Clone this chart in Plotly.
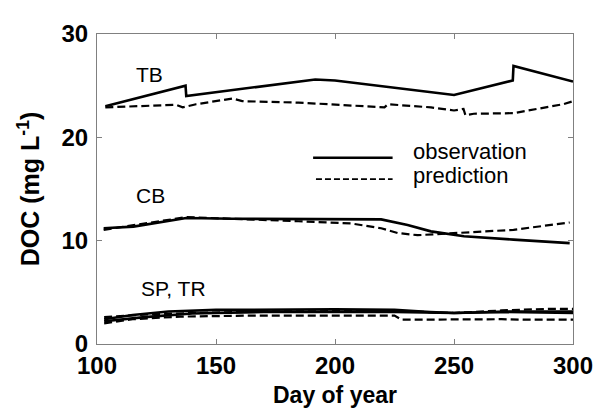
import plotly.graph_objects as go

# ---- data ----
tb_obs_day = [103.5, 137.2, 137.5, 191.7, 200, 250, 274.7, 275, 300]
tb_obs_val = [23.0, 25.0, 24.0, 25.6, 25.5, 24.1, 25.5, 26.9, 25.4]

tb_pred_day = [103.5, 133.3, 136, 141.6, 157, 161, 184.7, 212.5, 220.8, 222.2, 240.3, 250, 254, 254.8, 258.3, 275, 295.8, 300]
tb_pred_val = [22.9, 23.15, 22.9, 23.2, 23.76, 23.5, 23.36, 23.05, 22.9, 23.2, 22.9, 22.6, 22.75, 22.13, 22.28, 22.34, 23.2, 23.5]

cb_obs_day = [102.8, 115.3, 137.5, 157, 219.4, 230.5, 240.3, 254.2, 275, 298.6]
cb_obs_val = [11.2, 11.36, 12.19, 12.12, 12.06, 11.51, 10.9, 10.43, 10.1, 9.76]

cb_pred_day = [102.8, 137.5, 184.7, 207, 219.4, 226.3, 234.7, 250, 275, 298.6]
cb_pred_val = [11.05, 12.28, 11.88, 11.66, 11.2, 10.74, 10.53, 10.74, 11.05, 11.76]

sp_obs_day = [103, 115, 130, 150, 200, 225, 240, 250, 270, 300]
sp_obs_val = [2.4, 2.8, 3.15, 3.3, 3.35, 3.3, 3.1, 3.0, 3.1, 3.0]

tr_obs_day = [103, 120, 140, 170, 225, 250, 275, 300]
tr_obs_val = [2.2, 2.6, 2.95, 3.1, 3.1, 3.0, 3.15, 3.15]

sp_pred_day = [103, 115, 135, 165, 225, 228, 270, 280, 300]
sp_pred_val = [2.0, 2.4, 2.65, 2.75, 2.75, 2.35, 2.4, 2.35, 2.35]

tr_pred_day = [103, 120, 140, 170, 225, 250, 270, 290, 300]
tr_pred_val = [2.6, 2.85, 3.0, 3.15, 3.2, 3.0, 3.25, 3.4, 3.4]

x_ticks = [100, 150, 200, 250, 300]
y_ticks = [0, 10, 20, 30]

site_labels = ["TB", "CB", "SP, TR"]
site_label_pos = [(115.5, 26.1), (115.5, 14.4), (117.5, 5.35)]
legend_names = ["observation", "prediction"]

FONT = "Liberation Sans, Arial, sans-serif"
solid = dict(color="black", width=2.6)
dashed = dict(color="black", width=2.2, dash="8px,4px")

fig = go.Figure()
for d, v in [(tb_obs_day, tb_obs_val), (cb_obs_day, cb_obs_val),
             (sp_obs_day, sp_obs_val), (tr_obs_day, tr_obs_val)]:
    fig.add_trace(go.Scatter(x=d, y=v, mode="lines", line=solid,
                             name=legend_names[0], showlegend=False))
for d, v in [(tb_pred_day, tb_pred_val), (cb_pred_day, cb_pred_val),
             (sp_pred_day, sp_pred_val), (tr_pred_day, tr_pred_val)]:
    fig.add_trace(go.Scatter(x=d, y=v, mode="lines", line=dashed,
                             name=legend_names[1], showlegend=False))

# site labels
for txt, (x, y) in zip(site_labels, site_label_pos):
    fig.add_annotation(x=x, y=y, text=txt, showarrow=False, xanchor="left",
                       yanchor="middle", font=dict(family=FONT, size=21, color="black"))

# custom legend (line samples + labels)
leg_x0, leg_x1, leg_tx = 0.454, 0.621, 0.66
leg_y = [0.601, 0.532]
leg_ty = [0.62, 0.545]
fig.add_shape(type="line", xref="paper", yref="paper", x0=leg_x0, x1=leg_x1,
              y0=leg_y[0], y1=leg_y[0], line=solid)
fig.add_shape(type="line", xref="paper", yref="paper", x0=leg_x0 + 0.006, x1=leg_x1,
              y0=leg_y[1], y1=leg_y[1], line=dict(color="black", width=1.6, dash="6px,3px"))
for name, ty in zip(legend_names, leg_ty):
    fig.add_annotation(x=leg_tx, y=ty, xref="paper", yref="paper", text=name,
                       showarrow=False, xanchor="left", yanchor="middle",
                       font=dict(family=FONT, size=22, color="black"))

axis_common = dict(showline=True, linecolor="#808080", linewidth=1, mirror="ticks",
                   ticks="inside", ticklen=5, tickcolor="#808080", showgrid=False,
                   zeroline=False, tickfont=dict(family=FONT, size=24, color="black",
                                                 weight="bold"))
fig.update_xaxes(range=[100, 300], tickvals=x_ticks, ticktext=[str(t) for t in x_ticks],
                 title=dict(text="Day of year", standoff=9,
                            font=dict(family=FONT, size=23, color="black", weight="bold")),
                 **axis_common)
fig.update_yaxes(range=[0, 30], tickvals=y_ticks, ticktext=[str(t) for t in y_ticks],
                 ticklabelstandoff=3,
                 title=dict(text="DOC (mg L<sup>-1</sup>)", standoff=14,
                            font=dict(family=FONT, size=25, color="black", weight="bold")),
                 **axis_common)

# the page body adds an 8px margin; size the figure so the plot lands where the reference has it
fig.update_layout(width=597, height=408, margin=dict(l=89, r=28, t=15, b=68),
                  plot_bgcolor="white", paper_bgcolor="white", showlegend=False)

fig.write_html("out.html")
